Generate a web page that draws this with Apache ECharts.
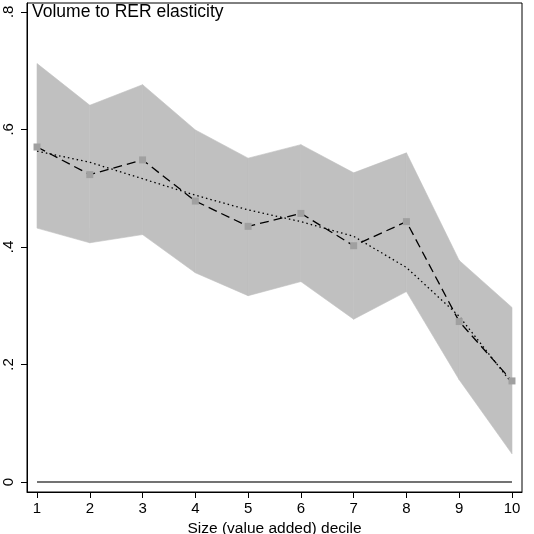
<!DOCTYPE html>
<html>
<head>
<meta charset="utf-8">
<script src="https://cdn.jsdelivr.net/npm/echarts@6/dist/echarts.min.js"></script>
<style>
  html, body { margin: 0; padding: 0; background: #fff; }
  #chart { width: 534px; height: 534px; }
</style>
</head>
<body>
<div id="chart"></div>
<script>
// deciles on x axis
var deciles = [1, 2, 3, 4, 5, 6, 7, 8, 9, 10];
// point estimates (dashed line with squares)
var estimate = [0.570, 0.523, 0.548, 0.478, 0.435, 0.457, 0.402, 0.443, 0.273, 0.172];
// confidence band
var upperCI = [0.712, 0.641, 0.676, 0.599, 0.551, 0.574, 0.526, 0.560, 0.377, 0.297];
var lowerCI = [0.432, 0.407, 0.421, 0.356, 0.317, 0.341, 0.277, 0.324, 0.174, 0.048];
// smoothed fit (dotted line)
var fitted = [0.563, 0.544, 0.516, 0.488, 0.463, 0.443, 0.418, 0.365, 0.282, 0.168];
var yTicks = [0, 0.2, 0.4, 0.6, 0.8];

var font = "'Liberation Sans', Arial, Helvetica, sans-serif";

function pairs(vals) {
  return deciles.map(function (d, i) { return [d, vals[i]]; });
}

// band: one quad between decile i and i+1
function renderBand(params, api) {
  var i = params.dataIndex;
  if (i >= deciles.length - 1) return null;
  var pts = [
    api.coord([deciles[i], lowerCI[i]]),
    api.coord([deciles[i + 1], lowerCI[i + 1]]),
    api.coord([deciles[i + 1], upperCI[i + 1]]),
    api.coord([deciles[i], upperCI[i]])
  ];
  return {
    type: 'polygon',
    shape: { points: pts },
    style: { fill: '#c0c0c0', stroke: '#c0c0c0', lineWidth: 0.6 }
  };
}

var chart = echarts.init(document.getElementById('chart'));
var option = {
  animation: false,
  backgroundColor: '#fff',
  textStyle: { fontFamily: font },
  title: {
    text: 'Volume to RER elasticity',
    left: 32,
    top: 3,
    padding: 0,
    textStyle: { fontSize: 17.5, fontWeight: 'normal', color: '#000', fontFamily: font }
  },
  grid: {
    left: 27, right: 12, top: 3, bottom: 42,
    containLabel: false, outerBoundsMode: 'none',
    show: true, borderColor: '#000', borderWidth: 1, backgroundColor: '#fff'
  },
  xAxis: {
    type: 'value',
    min: 0.81, max: 10.19,
    name: 'Size (value added) decile',
    nameLocation: 'middle',
    nameGap: 24,
    nameTextStyle: { fontSize: 15.5, color: '#000', fontFamily: font },
    axisLine: { show: true, onZero: false, lineStyle: { color: '#000', width: 1 } },
    axisTick: { show: true, length: 6, customValues: deciles, lineStyle: { color: '#000' } },
    axisLabel: { customValues: deciles, margin: 9, fontSize: 15, color: '#000', fontFamily: font },
    splitLine: { show: false }
  },
  yAxis: {
    type: 'value',
    min: -0.017, max: 0.815,
    axisLine: { show: true, onZero: false, lineStyle: { color: '#000', width: 1 } },
    axisTick: { show: true, length: 6, customValues: yTicks, lineStyle: { color: '#000' } },
    axisLabel: {
      customValues: yTicks, rotate: 90, margin: 11, fontSize: 15, color: '#000', fontFamily: font,
      formatter: function (v) { return v === 0 ? '0' : String(+v.toFixed(1)).replace(/^0/, ''); }
    },
    splitLine: { show: false }
  },
  series: [
    {
      type: 'custom', name: 'band',
      data: deciles.map(function (d, i) { return [d, lowerCI[i], upperCI[i]]; }),
      encode: { x: 0, y: [1, 2] },
      renderItem: renderBand, silent: true, z: 1
    },
    {
      type: 'line', name: 'zero', data: [[1, 0], [10, 0]],
      symbol: 'none', lineStyle: { color: '#444', width: 1.3 }, z: 2
    },
    {
      type: 'line', name: 'fit', data: pairs(fitted),
      symbol: 'none', lineStyle: { color: '#000', width: 1.3, type: [1.5, 3] }, z: 3
    },
    {
      type: 'line', name: 'estimate', data: pairs(estimate),
      symbol: 'rect', symbolSize: 7,
      itemStyle: { color: '#a0a0a0' },
      lineStyle: { color: '#000', width: 1.3, type: [9, 5] }, z: 4
    }
  ]
};
chart.setOption(option);
</script>
</body>
</html>
